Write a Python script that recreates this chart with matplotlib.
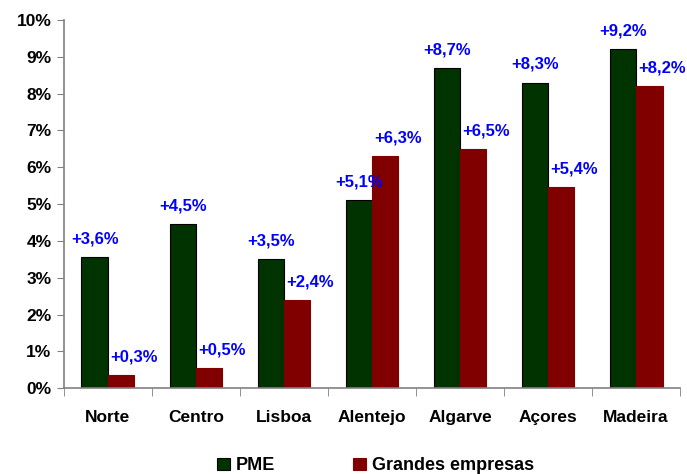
import numpy as np
import matplotlib.pyplot as plt
from matplotlib.ticker import FuncFormatter

plt.rcParams['font.family'] = ['Liberation Sans', 'DejaVu Sans']
plt.rcParams['font.weight'] = 'bold'

regions = ['Norte', 'Centro', 'Lisboa', 'Alentejo', 'Algarve', 'Açores', 'Madeira']
pme = [3.55, 4.45, 3.5, 5.1, 8.7, 8.3, 9.2]
grandes = [0.35, 0.55, 2.4, 6.3, 6.5, 5.45, 8.2]
pme_labels = ['+3,6%', '+4,5%', '+3,5%', '+5,1%', '+8,7%', '+8,3%', '+9,2%']
grandes_labels = ['+0,3%', '+0,5%', '+2,4%', '+6,3%', '+6,5%', '+5,4%', '+8,2%']

fig = plt.figure(figsize=(6.87, 4.74), dpi=100)
ax = fig.add_axes([0.093, 0.181, 0.897, 0.777])

x = np.arange(len(regions))
w = 0.3
b1 = ax.bar(x - w / 2, pme, w, color='#003300', edgecolor='black', linewidth=0.8, label='PME')
b2 = ax.bar(x + w / 2, grandes, w, color='#800000', edgecolor='#800000', linewidth=0.8, label='Grandes empresas')

for xi, v, s in zip(x, pme, pme_labels):
    ax.annotate(s, (xi - w / 2, v), xytext=(0, 13), textcoords='offset points',
                ha='center', va='center', color='#0000FF', fontsize=12, fontweight='bold')
for xi, v, s in zip(x, grandes, grandes_labels):
    ax.annotate(s, (xi + w / 2, v), xytext=(9, 13), textcoords='offset points',
                ha='center', va='center', color='#0000FF', fontsize=12, fontweight='bold')

ax.set_xlim(-0.5, len(regions) - 0.5)
ax.set_ylim(0, 10)
ax.set_yticks(np.arange(0, 11, 1))
ax.yaxis.set_major_formatter(FuncFormatter(lambda v, p: f'{int(v)}%'))
ax.set_xticks(x)
ax.set_xticklabels(regions)
ax.set_xticks(np.arange(-0.5, len(regions)), minor=True)
ax.tick_params(axis='x', which='major', length=0, pad=16, labelsize=12.5)
ax.tick_params(axis='x', which='minor', length=6, color='#808080', direction='out')
ax.tick_params(axis='y', length=5, color='#808080', labelsize=12.5, pad=4)
for lab in ax.get_xticklabels() + ax.get_yticklabels():
    lab.set_fontweight('bold')

for side in ['top', 'right']:
    ax.spines[side].set_visible(False)
for side in ['left', 'bottom']:
    ax.spines[side].set_color('#808080')
    ax.spines[side].set_linewidth(1.2)

leg = fig.legend(handles=[b1, b2], loc='lower center', bbox_to_anchor=(0.547, -0.035), ncol=2,
                 frameon=False, fontsize=13, handlelength=0.7, handleheight=0.7,
                 columnspacing=4.3, handletextpad=0.35)
for t in leg.get_texts():
    t.set_fontweight('bold')

fig.savefig('out.png', dpi=100)
